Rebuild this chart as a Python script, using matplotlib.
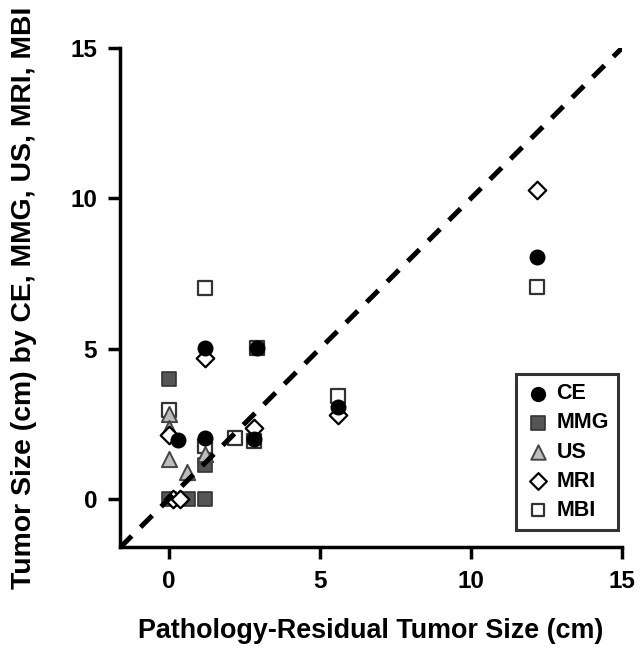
import matplotlib
matplotlib.use("Agg")
import matplotlib.pyplot as plt

plt.rcParams['font.family'] = ['Liberation Sans', 'DejaVu Sans']
plt.rcParams['font.weight'] = 'bold'

# Data (pathology residual size, modality size)
ce_x = [0.3, 1.2, 1.2, 2.9, 2.8, 5.6, 12.2]
ce_y = [1.97, 5.02, 2.02, 5.02, 2.0, 3.05, 8.05]

mmg_x = [0.0, 1.2, 0.0, 0.63, 1.2]
mmg_y = [4.0, 1.12, 0.0, 0.0, 0.0]

us_x = [0.0, 0.0, 1.2, 0.0, 0.6]
us_y = [2.83, 2.35, 1.5, 1.32, 0.88]

mri_x = [1.2, 0.0, 2.8, 5.6, 12.2, 0.15, 0.35]
mri_y = [4.68, 2.12, 2.36, 2.8, 10.28, 0.0, 0.0]

mbi_x = [1.2, 2.9, 0.0, 1.2, 2.2, 2.8, 5.6, 12.2]
mbi_y = [7.0, 5.02, 2.95, 1.75, 2.03, 1.92, 3.43, 7.05]

ticks = [0, 5, 10, 15]

fig = plt.figure(figsize=(6.44, 6.55), dpi=100)
ax = fig.add_axes([120/644, 108/655, 502/644, 499/655])

ax.plot([-1.62, 15], [-1.62, 15], color='black', lw=3.6, dashes=(3.3, 2.5), zorder=5)

ax.scatter(mbi_x, mbi_y, marker='s', s=95, facecolor='white', edgecolor='#333333', linewidth=1.6, zorder=2, label='MBI')
ax.scatter(mmg_x, mmg_y, marker='s', s=110, facecolor='#555555', edgecolor='#333333', linewidth=1.2, zorder=2.5, label='MMG')
ax.scatter(us_x, us_y, marker='^', s=120, facecolor='#bdbdbd', edgecolor='#444444', linewidth=1.4, zorder=3, label='US')
ax.scatter(mri_x, mri_y, marker='D', s=80, facecolor='white', edgecolor='black', linewidth=1.6, zorder=3.5, label='MRI')
ax.scatter(ce_x, ce_y, marker='o', s=110, facecolor='black', edgecolor='black', linewidth=1, zorder=4, label='CE')

ax.set_xlim(-1.62, 15)
ax.set_ylim(-1.6, 15)
ax.set_xticks(ticks)
ax.set_yticks(ticks)
ax.set_xticklabels([str(t) for t in ticks], fontsize=17.5, fontweight='bold')
ax.set_yticklabels([str(t) for t in ticks], fontsize=17.5, fontweight='bold')
for s in ['top', 'right']:
    ax.spines[s].set_visible(False)
for s in ['left', 'bottom']:
    ax.spines[s].set_linewidth(2.5)
ax.tick_params(width=2.5, length=8.5, pad=8, direction='out')

ax.set_xlabel('Pathology-Residual Tumor Size (cm)', fontsize=19.4, fontweight='bold', labelpad=18)
ax.set_ylabel('Tumor Size (cm) by CE, MMG, US, MRI, MBI', fontsize=20.4, fontweight='bold', labelpad=24)

handles, labels = ax.get_legend_handles_labels()
order = ['CE', 'MMG', 'US', 'MRI', 'MBI']
hmap = dict(zip(labels, handles))
leg = ax.legend([hmap[k] for k in order], order, loc='lower right',
                bbox_to_anchor=(0.992, 0.034), borderaxespad=0, frameon=True, fancybox=False,
                prop={'weight': 'bold', 'size': 15.5}, handletextpad=0.3,
                handlelength=1.15, borderpad=0.42, labelspacing=0.38, markerscale=0.95)
leg.get_frame().set_edgecolor('black')
leg.get_frame().set_linewidth(2.2)

fig.savefig('out.png', dpi=100)
